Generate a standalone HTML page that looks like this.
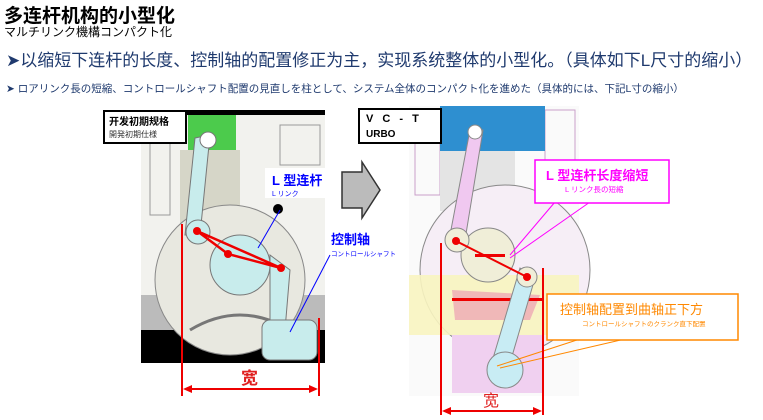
<!DOCTYPE html>
<html><head><meta charset="utf-8"><style>
body{margin:0;background:#fff;width:763px;height:415px;overflow:hidden;font-family:"Liberation Sans","Noto Sans CJK SC",sans-serif}
</style></head><body>
<svg width="763" height="415" xmlns="http://www.w3.org/2000/svg" font-family="Liberation Sans, Noto Sans CJK SC, sans-serif">
<text x="4" y="22" font-size="19" font-weight="bold" fill="#000">多连杆机构的小型化</text>
<text x="4" y="36" font-size="12" fill="#000" font-family="Liberation Sans, Noto Sans CJK JP, sans-serif">マルチリンク機構コンパクト化</text>
<text x="6" y="66" font-size="17" fill="#1f3a6e">➤以缩短下连杆的长度、控制轴的配置修正为主，实现系统整体的小型化。（具体如下L尺寸的缩小）</text>
<text x="6" y="92" font-size="10.5" fill="#1f3a6e" font-family="Liberation Sans, Noto Sans CJK JP, sans-serif">➤ ロアリンク長の短縮、コントロールシャフト配置の見直しを柱として、システム全体のコンパクト化を進めた（具体的には、下記L寸の縮小）</text>

<!-- left engine -->
<rect x="141" y="110" width="184" height="253" fill="#f2f2ee"/>
<rect x="141" y="110" width="184" height="5" fill="#000"/>
<rect x="150" y="125" width="20" height="90" fill="none" stroke="#999"/>
<rect x="280" y="125" width="40" height="40" fill="none" stroke="#999"/>
<rect x="188" y="115" width="48" height="35" fill="#4ccb4c"/>
<rect x="180" y="150" width="60" height="75" fill="#d6d6c8"/>
<rect x="141" y="295" width="184" height="35" fill="#bbb"/>
<rect x="141" y="330" width="184" height="33" fill="#000"/>
<circle cx="230" cy="280" r="75" fill="#e8e8e0" stroke="#888"/>
<path d="M190 330 Q240 300 290 330" fill="none" stroke="#777" stroke-width="3"/>
<circle cx="240" cy="265" r="30" fill="#c8ecec" stroke="#777"/>
<path d="M195 138 L210 135 L200 235 L185 235 Z" fill="#c8ecec" stroke="#777"/>
<circle cx="208" cy="140" r="8" fill="#fff" stroke="#777"/>
<circle cx="198" cy="232" r="12" fill="#c8ecec" stroke="#777"/>
<path d="M270 255 L290 270 L285 330 L270 330 Z" fill="#c8ecec" stroke="#777"/>
<rect x="262" y="320" width="55" height="40" rx="8" fill="#c8ecec" stroke="#777"/>
<rect x="265" y="168" width="60" height="30" fill="#fff"/>
<polyline points="197,231 281,268 228,254 197,231" fill="none" stroke="#e00" stroke-width="2.5"/>
<circle cx="197" cy="231" r="4" fill="#e00"/><circle cx="281" cy="268" r="4" fill="#e00"/><circle cx="228" cy="254" r="4" fill="#e00"/>
<circle cx="278" cy="209" r="5" fill="#000"/>
<line x1="280" y1="210" x2="258" y2="248" stroke="#00f"/>
<line x1="330" y1="255" x2="290" y2="332" stroke="#00f"/>
<text x="272" y="185" font-size="13" font-weight="bold" fill="#00f">L 型连杆</text>
<text x="272" y="196" font-size="7" fill="#00f">L リンク</text>
<text x="331" y="244" font-size="13" font-weight="bold" fill="#00f">控制轴</text>
<text x="331" y="256" font-size="6.5" fill="#00f" font-family="Liberation Sans, Noto Sans CJK JP, sans-serif">コントロールシャフト</text>
<rect x="104" y="111" width="82" height="32" fill="#fff" stroke="#000" stroke-width="2"/>
<text x="109" y="125" font-size="10" font-weight="bold">开发初期规格</text>
<text x="109" y="137" font-size="8" fill="#333" font-family="Liberation Sans, Noto Sans CJK JP, sans-serif">開発初期仕様</text>
<line x1="182" y1="224" x2="182" y2="396" stroke="#e00" stroke-width="2"/>
<line x1="319" y1="318" x2="319" y2="396" stroke="#e00" stroke-width="2"/>
<line x1="186" y1="389" x2="315" y2="389" stroke="#e00" stroke-width="2"/>
<polygon points="183,389 192,385 192,393" fill="#e00"/><polygon points="318,389 309,385 309,393" fill="#e00"/>
<text x="241" y="384" font-size="17" font-weight="bold" fill="#e02020">宽</text>

<!-- arrow -->
<polygon points="342,172 362,172 362,162 380,190 362,218 362,208 342,208" fill="#bbb" stroke="#333" stroke-width="1.5"/>

<!-- right engine -->
<rect x="409" y="106" width="170" height="290" fill="#fafafa"/>
<rect x="415" y="115" width="25" height="80" fill="none" stroke="#c9a0c9"/>
<rect x="545" y="110" width="30" height="70" fill="none" stroke="#c9a0c9"/>
<rect x="440" y="106" width="105" height="45" fill="#2e8fd0"/>
<rect x="440" y="151" width="75" height="60" fill="#e4e4e4"/>
<circle cx="505" cy="270" r="85" fill="#f6eef6" stroke="#888"/>
<rect x="409" y="275" width="170" height="60" fill="#f8f4c0" opacity=".9"/>
<rect x="452" y="335" width="90" height="58" fill="#f0d0f0"/>
<path d="M452 290 L540 295 L530 320 L455 320 Z" fill="#f0b8b8"/>
<rect x="452" y="298" width="90" height="3" fill="#e00"/>
<circle cx="488" cy="255" r="27" fill="#f0eed8" stroke="#888"/>
<path d="M470 130 L483 130 L465 240 L450 235 Z" fill="#f0c8f0" stroke="#888"/>
<circle cx="475" cy="132" r="7" fill="#fff" stroke="#888"/>
<circle cx="457" cy="240" r="12" fill="#f0eed8" stroke="#888"/>
<path d="M520 268 L535 278 L505 380 L488 375 Z" fill="#c8ecf4" stroke="#888"/>
<circle cx="505" cy="370" r="18" fill="#c8ecf4" stroke="#888"/>
<circle cx="527" cy="277" r="10" fill="#f0eed8" stroke="#888"/>
<line x1="456" y1="241" x2="527" y2="277" stroke="#e00" stroke-width="2"/>
<circle cx="456" cy="241" r="4" fill="#e00"/><circle cx="527" cy="277" r="4" fill="#e00"/>
<rect x="475" y="254" width="30" height="3" fill="#e00"/>
<line x1="555" y1="202" x2="510" y2="255" stroke="#f0f"/>
<line x1="590" y1="202" x2="510" y2="258" stroke="#f0f"/>
<line x1="580" y1="339" x2="497" y2="366" stroke="#f80"/>
<line x1="625" y1="339" x2="500" y2="368" stroke="#f80"/>
<rect x="535" y="160" width="134" height="43" fill="#fff" stroke="#f0f" stroke-width="1.5"/>
<text x="546" y="180" font-size="13" font-weight="bold" fill="#f0f">L 型连杆长度缩短</text>
<text x="565" y="192" font-size="7.5" fill="#f0f" font-family="Liberation Sans, Noto Sans CJK JP, sans-serif">L リンク長の短縮</text>
<rect x="547" y="294" width="191" height="46" fill="#fff" stroke="#f80" stroke-width="1.5"/>
<text x="560" y="314" font-size="13" fill="#f80">控制轴配置到曲轴正下方</text>
<text x="582" y="326" font-size="6.5" fill="#f80" font-family="Liberation Sans, Noto Sans CJK JP, sans-serif">コントロールシャフトのクランク直下配置</text>
<rect x="359" y="109" width="82" height="34" fill="#fff" stroke="#000" stroke-width="2"/>
<text x="366" y="122" font-size="11" font-weight="bold" letter-spacing="3">V C - T</text>
<text x="366" y="137" font-size="10" font-weight="bold">URBO</text>
<line x1="441" y1="243" x2="441" y2="415" stroke="#e00" stroke-width="2"/>
<line x1="543" y1="268" x2="543" y2="415" stroke="#e00" stroke-width="2"/>
<line x1="444" y1="411" x2="540" y2="411" stroke="#e00" stroke-width="2"/>
<polygon points="442,411 451,407 451,415" fill="#e00"/><polygon points="542,411 533,407 533,415" fill="#e00"/>
<text x="483" y="406" font-size="16" fill="#e02020">宽</text>
</svg>
</body></html>
